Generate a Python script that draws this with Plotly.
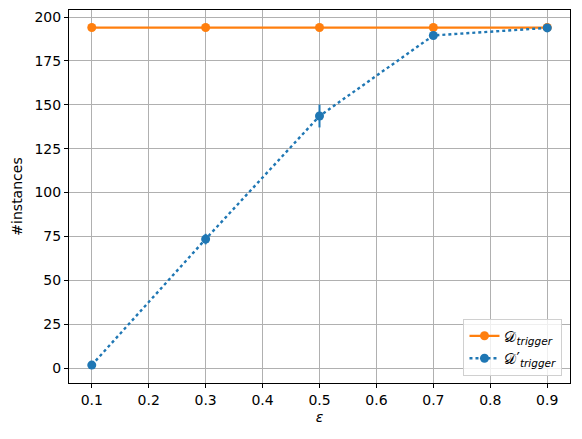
import plotly.graph_objects as go

eps = [0.1, 0.3, 0.5, 0.7, 0.9]
d_trigger = [194, 194, 194, 194, 194]
d_prime = [1.7, 73.5, 143.6, 189.5, 193.8]
d_prime_err = [1.0, 3.0, 6.5, 2.0, 1.0]
x_ticks = [0.1, 0.2, 0.3, 0.4, 0.5, 0.6, 0.7, 0.8, 0.9]
y_ticks = [0, 25, 50, 75, 100, 125, 150, 175, 200]

fig = go.Figure()

fig.add_trace(go.Scatter(
    x=eps, y=d_trigger, mode="lines+markers",
    name="𝒟<sub><i>trigger</i></sub>",
    line=dict(color="#ff7f0e", width=2.2),
    marker=dict(color="#ff7f0e", size=9),
))
fig.add_trace(go.Scatter(
    x=eps, y=d_prime, mode="lines+markers",
    name="𝒟′<sub><i>trigger</i></sub>",
    line=dict(color="#1f77b4", width=2.4, dash="dot"),
    marker=dict(color="#1f77b4", size=9),
    error_y=dict(type="data", array=d_prime_err, color="#1f77b4", thickness=2, width=0),
))

axis_common = dict(
    showline=True, linecolor="black", linewidth=1, mirror=True,
    ticks="outside", ticklen=4, tickcolor="black",
    showgrid=True, gridcolor="#b0b0b0", gridwidth=1,
    zeroline=False, automargin=False,
    tickfont=dict(family="DejaVu Sans", size=14, color="black"),
)

fig.update_xaxes(
    range=[0.06, 0.94], tickvals=x_ticks,
    ticktext=[f"{v:.1f}" for v in x_ticks],
    title=dict(text="<i>ε</i>", font=dict(family="DejaVu Sans", size=14, color="black"), standoff=5),
    **axis_common,
)
fig.update_yaxes(
    range=[-8.5, 204], tickvals=y_ticks,
    title=dict(text="#instances", font=dict(family="DejaVu Sans", size=14, color="black"), standoff=8),
    **axis_common,
)

fig.update_layout(
    width=582, height=439,
    margin=dict(l=69, r=12, t=10, b=56),
    plot_bgcolor="white", paper_bgcolor="white",
    font=dict(family="DejaVu Sans", size=14, color="black"),
    legend=dict(
        x=0.985, y=0.02, xanchor="right", yanchor="bottom",
        bgcolor="rgba(255,255,255,0.8)", bordercolor="#d0d0d0", borderwidth=1,
        font=dict(family="DejaVu Sans", size=15),
    ),
    showlegend=True,
)

# page body has a default 8px margin, drop it so the figure fills the window
fig.write_html(
    "out.html",
    config={"displayModeBar": False},
    post_script="document.body.style.margin='0';",
)
